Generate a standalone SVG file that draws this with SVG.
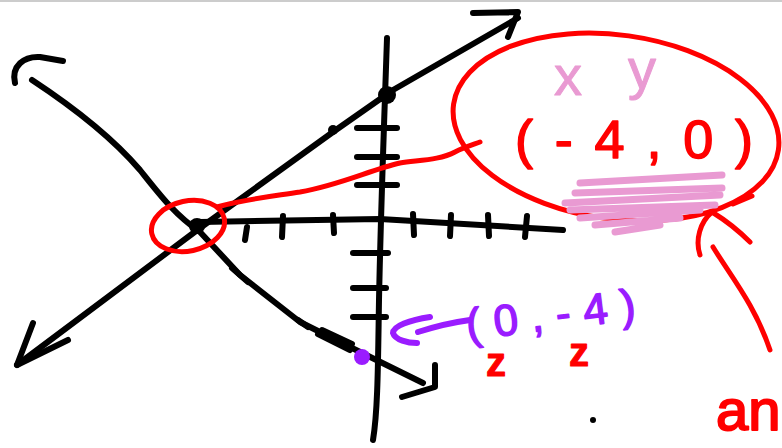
<svg xmlns="http://www.w3.org/2000/svg" width="782" height="448" viewBox="0 0 782 448">
<style>
.blk{fill:none;stroke:#000;stroke-width:6;stroke-linecap:round;stroke-linejoin:round}
.red{fill:none;stroke:#f00;stroke-width:5;stroke-linecap:round;stroke-linejoin:round}
.pink{fill:none;stroke:#e99ad2;stroke-width:7;stroke-linecap:round;stroke-linejoin:round}
.pur{fill:none;stroke:#9a1cff;stroke-width:6;stroke-linecap:round;stroke-linejoin:round}
.hand{font-family:"Liberation Sans","DejaVu Sans",sans-serif;stroke-linejoin:round}
</style>
<rect width="782" height="448" fill="#fff"/>
<line x1="0" y1="1" x2="782" y2="1" stroke="#ccc" stroke-width="2"/>
<g id="axes">
<path class="blk" d="M387,38 C385,100 381,200 379,300 C378,360 378,410 373,440"/>
<path class="blk" d="M200,222 L380,219 L563,230"/>
<g class="blk" stroke-width="5">
<line x1="357" y1="128" x2="397" y2="128"/>
<line x1="357" y1="157" x2="397" y2="157"/>
<line x1="357" y1="185" x2="397" y2="185"/>
<line x1="353" y1="253" x2="388" y2="253"/>
<line x1="353" y1="288" x2="386" y2="288"/>
<line x1="353" y1="317" x2="386" y2="317"/>
<line x1="247" y1="227" x2="245" y2="240"/>
<line x1="283" y1="216" x2="282" y2="237"/>
<line x1="333" y1="215" x2="334" y2="233"/>
<line x1="413" y1="214" x2="414" y2="235"/>
<line x1="451" y1="215" x2="450" y2="236"/>
<line x1="488" y1="215" x2="489" y2="236"/>
<line x1="527" y1="216" x2="525" y2="237"/>
</g>
</g>
<g id="lines">
<path class="blk" d="M15,83 C11,66 24,56 40,57 L63,61"/>
<path class="blk" d="M32,80 C70,105 110,135 140,170 C160,195 175,215 200,232 L240,275 L300,322 L350,347 L423,383"/>
<path class="blk" d="M435,365 L435,387 L402,397"/>
<path class="blk" d="M17,365 L200,228 L333,132 L393,90 L518,18"/>
<path class="blk" d="M473,13 L518,12 L508,37"/>
<path class="blk" d="M33,323 L17,365 L68,340"/>
<path class="blk" stroke-width="10" d="M232,268 L248,282"/>
<path class="blk" stroke-width="10" d="M298,320 L308,327"/>
<path class="blk" stroke-width="4" d="M318,334 L350,350 M322,330 L352,344"/>
<circle cx="333" cy="130" r="5"/>
<circle cx="387" cy="95" r="9"/>
<circle cx="197" cy="226" r="8"/>
<circle cx="593" cy="420" r="3"/>
</g>
<g id="highlight-red">
<ellipse class="red" cx="188" cy="226" rx="37" ry="25" transform="rotate(-12 188 226)"/>
<path class="red" d="M217,207 C240,200 267,197 300,192 C340,185 370,170 400,163 C420,160 440,160 455,152 C465,147 475,144 480,142"/>
<ellipse class="red" cx="616" cy="127" rx="164" ry="92" transform="rotate(8 616 127)"/>
<path class="red" stroke-width="9" d="M733,204 L752,196"/>
<path class="red" d="M700,255 C695,240 700,222 712,212 C725,220 740,232 750,242"/>
<path class="red" d="M713,247 C730,275 755,305 770,350"/>
</g>
<g id="pink-marks">
<path class="pink" d="M580,183 L722,175 M575,193 L722,188 M565,203 L720,195 M570,210 L715,205 M580,218 L700,210 M595,225 L680,218 M615,232 L660,225"/>
</g>
<g id="labels">
<text class="hand" x="554" y="95" font-size="56" fill="#e99ad2" stroke="#e99ad2" stroke-width="1">x</text>
<text class="hand" x="628" y="88" font-size="56" fill="#e99ad2" stroke="#e99ad2" stroke-width="1">y</text>
<text class="hand" x="515" y="158" font-size="54" fill="#f00" stroke="#f00" stroke-width="1.5" textLength="238" lengthAdjust="spacing">(-4,0)</text>
<text class="hand" x="486" y="376" font-size="40" font-weight="bold" fill="#f00" stroke="#f00" stroke-width="1">z</text>
<text class="hand" x="569" y="366" font-size="40" font-weight="bold" fill="#f00" stroke="#f00" stroke-width="1">z</text>
<text class="hand" x="716" y="430" font-size="58" fill="#f00" stroke="#f00" stroke-width="2">an</text>
</g>
<g id="purple-label">
<circle cx="362" cy="357" r="8" fill="#9a1cff"/>
<path class="pur" d="M430,317 C410,320 393,326 393,333 C395,340 408,343 417,343"/>
<path class="pur" d="M418,332 C440,325 455,322 470,320"/>
<text class="hand" x="468" y="340" font-size="44" fill="#9a1cff" stroke="#9a1cff" stroke-width="1.5" textLength="170" lengthAdjust="spacing" transform="rotate(-7 468 340)">(0,-4)</text>
</g>
</svg>
